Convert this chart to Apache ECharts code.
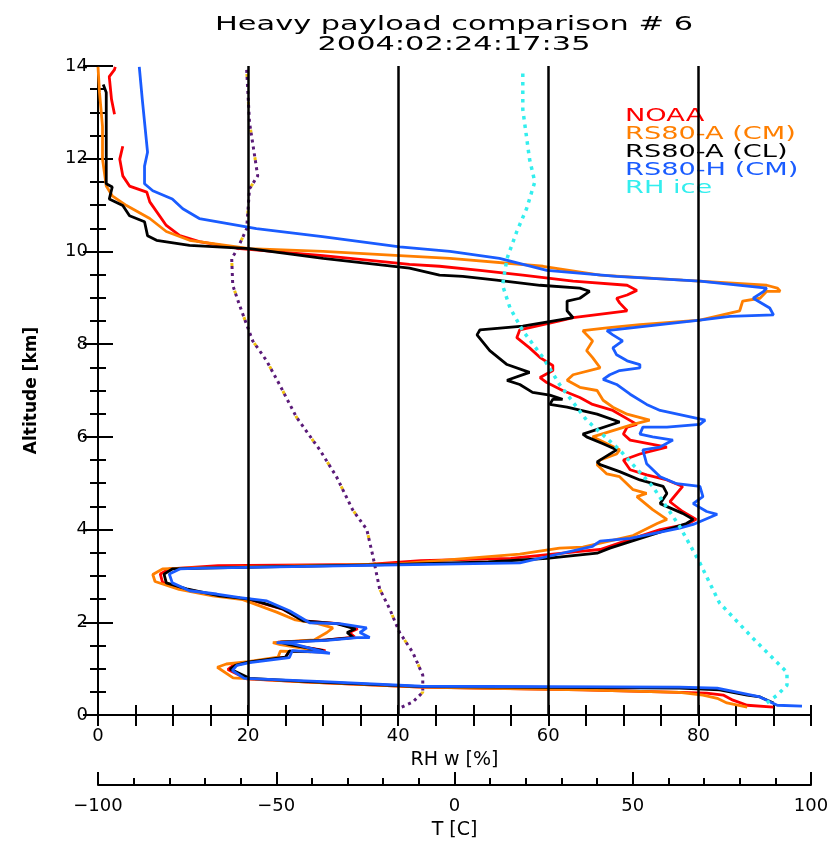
<!DOCTYPE html>
<html>
<head>
<meta charset="utf-8">
<title>Heavy payload comparison # 6</title>
<script src="https://cdn.jsdelivr.net/npm/echarts@6/dist/echarts.min.js"></script>
<style>
  html, body { margin: 0; padding: 0; background: #fff; }
  #chart { width: 837px; height: 845px; }
</style>
</head>
<body>
<div id="chart"></div>
<script>
// [RH w %, altitude km]
var noaa = [
  [90, 0.17], [86.5, 0.21], [84.6, 0.32], [83.3, 0.43], [81.1, 0.47], [77.5, 0.49], [64.6, 0.54],
  [43, 0.6], [28, 0.71], [19.8, 0.78], [17.3, 0.98], [18, 1.07], [20, 1.14], [25, 1.25], [25.5, 1.38],
  [29.8, 1.36], [30.3, 1.39], [25.5, 1.52], [24, 1.57], [30.5, 1.62], [34.2, 1.68], [33.5, 1.78],
  [34.6, 1.86], [32, 1.97], [27.5, 2.03], [24.5, 2.29], [20, 2.5], [16, 2.57], [11.5, 2.72], [8.6, 2.86],
  [8.3, 3.04], [9.5, 3.15], [16, 3.22], [36, 3.25], [43, 3.33], [55, 3.38], [64.2, 3.53], [66.9, 3.57],
  [70.9, 3.79], [74.9, 4.0], [78.4, 4.11], [79.7, 4.22], [77.9, 4.39], [76.2, 4.6], [77.9, 4.93],
  [75.8, 5.07], [73.1, 5.18], [70.9, 5.29], [70, 5.5], [72.2, 5.63], [75.8, 5.78], [70.9, 5.93],
  [70, 6.06], [70.5, 6.21], [71.8, 6.27], [68.6, 6.57], [65.9, 6.7], [64.2, 6.85], [61.9, 7.0],
  [59.8, 7.17], [58.9, 7.28], [60.6, 7.43], [60.6, 7.54], [58.9, 7.71], [57.5, 7.92], [55.8, 8.14],
  [56.2, 8.31], [61.5, 8.5], [63.3, 8.57], [70.5, 8.72], [69.5, 8.89], [69.1, 8.99], [70.5, 9.06],
  [71.8, 9.16], [70.5, 9.27], [63.3, 9.36], [56.6, 9.49], [50.9, 9.59], [45.5, 9.68], [41.5, 9.72],
  [30, 9.91], [18.9, 10.06], [13.5, 10.21], [10.9, 10.34], [9.1, 10.56], [6.9, 11.07], [6.5, 11.28],
  [4.2, 11.41], [3.3, 11.63], [2.9, 11.99], [3.3, 12.27], ['-', '-'],
  [2.2, 12.96], [1.8, 13.28], [1.5, 13.77], [2.2, 13.92], [2.3, 13.98]
];
var rs80aCM = [
  [86.5, 0.17], [83.8, 0.26], [82.5, 0.36], [80.6, 0.43], [77.5, 0.49], [64.6, 0.54], [50, 0.58],
  [43, 0.6], [28, 0.71], [18, 0.8], [15.9, 1.03], [17.1, 1.1], [20, 1.15], [24, 1.25], [24.3, 1.38],
  [28.3, 1.36], [28.8, 1.4], [24.3, 1.52], [23.3, 1.56], [28.8, 1.62], [30.5, 1.78], [31.3, 1.88],
  [29.3, 1.97], [26.3, 2.05], [23.8, 2.22], [19.3, 2.49], [15.3, 2.57], [10.8, 2.71], [7.6, 2.88],
  [7.3, 3.03], [8.6, 3.15], [11.8, 3.17], [40, 3.26], [56.2, 3.47], [61.5, 3.6], [64.6, 3.62],
  [71.3, 3.87], [74.5, 4.13], [75.8, 4.22], [73.9, 4.43], [71.8, 4.71], [73.1, 4.78], [71.3, 4.86],
  [69.5, 5.14], [67.8, 5.2], [66.5, 5.4], [66.9, 5.5], [69.1, 5.63], [69.5, 5.72], [65.9, 6.0],
  [71.3, 6.27], [73.5, 6.36], [70.5, 6.49], [68.6, 6.64], [67.3, 6.79], [66.5, 7.0], [64.2, 7.07],
  [62.5, 7.22], [63.3, 7.34], [66.9, 7.49], [65.9, 7.71], [65.1, 7.86], [65.9, 8.07], [64.6, 8.29],
  [67.8, 8.35], [72.2, 8.42], [80.2, 8.52], [85.5, 8.72], [85.9, 8.93], [88.2, 8.99], [89.1, 9.14],
  [90.9, 9.14], [90.5, 9.21], [89.1, 9.27], [77.9, 9.38], [66.9, 9.49], [59.3, 9.68], [46.9, 9.85],
  [40.2, 9.91], [30, 10.0], [20.2, 10.06], [12.2, 10.24], [9.1, 10.43], [6.9, 10.71], [3.8, 10.99],
  [1.9, 11.2], [1.1, 11.41], [0.6, 11.99], [0.6, 12.7], [0.2, 13.43], [0, 13.98]
];
var rs80aCL = [
  [90, 0.26], [88.2, 0.39], [86.5, 0.43], [82.8, 0.54], [77.5, 0.58], [43, 0.61], [28, 0.72],
  [20.2, 0.79], [17.6, 0.99], [18.3, 1.07], [20, 1.14], [25, 1.25], [25.5, 1.38], [29.5, 1.36],
  [30, 1.39], [25.5, 1.52], [24.3, 1.57], [29.8, 1.61], [34, 1.67], [33.2, 1.78], [34.3, 1.86],
  [31.8, 1.97], [27.3, 2.03], [24.6, 2.29], [20.2, 2.5], [16.2, 2.57], [11.8, 2.72], [9.1, 2.85],
  [8.8, 3.04], [9.9, 3.15], [13.9, 3.17], [40, 3.25], [52, 3.3], [59.8, 3.38], [66.5, 3.49],
  [68.2, 3.6], [78.4, 4.13], [79.3, 4.22], [77.9, 4.35], [74.9, 4.56], [75.8, 4.78], [75.3, 4.93],
  [72.2, 5.07], [69.5, 5.25], [66.9, 5.4], [66.5, 5.46], [69.1, 5.72], [67.3, 5.85], [65.1, 6.0],
  [64.6, 6.06], [69.5, 6.32], [66.5, 6.49], [62.5, 6.64], [60.2, 6.7], [60.6, 6.81], [61.9, 6.81],
  [60.2, 6.9], [57.9, 6.96], [56.2, 7.13], [54.5, 7.22], [57.5, 7.39], [54.5, 7.56], [52.2, 7.86],
  [50.5, 8.2], [50.9, 8.31], [56.6, 8.39], [63.3, 8.57], [62.5, 8.72], [62.5, 8.93], [64.2, 8.99],
  [65.5, 9.14], [64.2, 9.21], [58.9, 9.27], [53.1, 9.38], [48.6, 9.46], [45.5, 9.49], [41.5, 9.64],
  [30, 9.85], [20.2, 10.06], [12.2, 10.13], [7.8, 10.24], [6.6, 10.34], [6.2, 10.64], [4.2, 10.77],
  [3.3, 10.99], [1.5, 11.13], [1.9, 11.39], [1.1, 11.46], [1.1, 13.43], [0.7, 13.6]
];
var rs80hCM = [
  [93.8, 0.19], [90.5, 0.21], [88.2, 0.39], [82.5, 0.58], [77.5, 0.6], [43, 0.62], [30, 0.72],
  [19.5, 0.79], [17.9, 0.96], [18.5, 1.07], [20.2, 1.13], [25.5, 1.24], [25.9, 1.39], [29.5, 1.35],
  [30.9, 1.33], [25.9, 1.54], [23.8, 1.56], [30.5, 1.61], [34.5, 1.67], [36.2, 1.67], [34.9, 1.78],
  [35.8, 1.88], [32.2, 1.97], [28.2, 1.99], [25.5, 2.25], [22.5, 2.46], [18.9, 2.53], [15.8, 2.61],
  [12.2, 2.68], [9.9, 2.85], [9.5, 3.04], [10.9, 3.15], [13.9, 3.17], [40, 3.24], [56.2, 3.28],
  [60.2, 3.43], [65.9, 3.64], [66.9, 3.75], [70.9, 3.81], [77.5, 4.03], [79.3, 4.11], [82.5, 4.33],
  [81.1, 4.39], [79.3, 4.56], [80.6, 4.71], [80.2, 4.93], [77.1, 4.99], [74.9, 5.14], [73.1, 5.42],
  [72.6, 5.72], [74.9, 5.78], [76.6, 5.93], [73.9, 6.0], [72.2, 6.06], [72.6, 6.21], [75.8, 6.21],
  [80.2, 6.27], [80.9, 6.36], [74.9, 6.57], [73.1, 6.7], [70.9, 6.92], [69.1, 7.13], [67.3, 7.24],
  [68.2, 7.34], [69.5, 7.43], [72.2, 7.49], [72.2, 7.56], [70.5, 7.64], [69.1, 7.77], [68.6, 7.92],
  [69.9, 8.07], [68.6, 8.2], [67.8, 8.29], [80.2, 8.52], [84.2, 8.6], [90, 8.63], [89.5, 8.78],
  [87.3, 8.99], [88.7, 9.14], [89.1, 9.21], [80.2, 9.36], [69.1, 9.46], [59.8, 9.59], [53.5, 9.85],
  [46.9, 10.0], [40.2, 10.1], [29.9, 10.32], [21.1, 10.49], [13.5, 10.71], [11.3, 10.92], [9.9, 11.13],
  [7.3, 11.31], [6.2, 11.46], [6.2, 11.84], [6.6, 12.14], [5.9, 13.28], [5.5, 13.98]
];
var rhIce = [
  [89.1, 0.26], [90.5, 0.43], [91.8, 0.64], [91.8, 0.92], [87.3, 1.65], [82.8, 2.42], [80.2, 3.28],
  [77.5, 4.07], [73.9, 4.93], [69.5, 5.72], [65.1, 6.36], [61.5, 7.13], [59.3, 7.71], [56.6, 8.29],
  [54.9, 8.78], [53.9, 9.27], [54.5, 9.85], [55.8, 10.43], [57.1, 10.92], [58.2, 11.5], [57.5, 11.99],
  [56.6, 13.06], [56.6, 13.92]
];
// [T degC, altitude km]
var temperature = [
  [-14.8, 0.17], [-11.7, 0.28], [-8.9, 0.49], [-8.9, 0.86], [-11.7, 1.35], [-15.4, 1.78], [-18.2, 2.29],
  [-21, 2.72], [-22.9, 3.43], [-24.6, 4.0], [-28.6, 4.43], [-33.1, 5.14], [-37.8, 5.72], [-44.3, 6.42],
  [-49.1, 7.13], [-52.7, 7.64], [-56.6, 8.07], [-58.3, 8.42], [-60.3, 8.84], [-62.2, 9.27], [-62.5, 9.85],
  [-61.1, 10.02], [-58.3, 10.49], [-57.5, 11.35], [-55.2, 11.63], [-57.5, 12.78], [-58.3, 13.92]
];
var refLines = [20, 40, 60, 80];
var legendNames = ['NOAA', 'RS80-A (CM)', 'RS80-A (CL)', 'RS80-H (CM)', 'RH ice'];
var legendColors = ['#ff0000', '#ff7f00', '#000000', '#1a5cff', '#33eeee'];

var FONT = 'DejaVu Sans';
var chart = echarts.init(document.getElementById('chart'));

function rhLine(name, data, color) {
  return {
    name: name, type: 'line', data: data, symbol: 'none',
    xAxisIndex: 0, yAxisIndex: 0, animation: false,
    lineStyle: { color: color, width: 2.8 }
  };
}

var legendGraphics = legendNames.map(function (n, i) {
  return {
    type: 'text', x: 625, y: 117 + i * 17.8, scaleX: 1.6,
    style: { text: n, fill: legendColors[i], font: '17px "' + FONT + '"', align: 'left', verticalAlign: 'middle' }
  };
});

var option = {
  backgroundColor: '#fff',
  animation: false,
  grid: { left: 98, right: 26, top: 66, bottom: 125 },
  graphic: [
    { type: 'text', x: 454, y: 25, scaleX: 1.6,
      style: { text: 'Heavy payload comparison # 6', fill: '#000', font: '19px "' + FONT + '"', align: 'center', verticalAlign: 'middle' } },
    { type: 'text', x: 454, y: 45, scaleX: 1.6,
      style: { text: '2004:02:24:17:35', fill: '#000', font: '19px "' + FONT + '"', align: 'center', verticalAlign: 'middle' } }
  ].concat(legendGraphics),
  xAxis: [
    {
      type: 'value', position: 'bottom', min: 0, max: 95, interval: 5,
      name: 'RH w [%]', nameLocation: 'middle', nameGap: 36,
      nameTextStyle: { fontFamily: FONT, fontSize: 19, color: '#000' },
      axisLine: { lineStyle: { color: '#000', width: 2 } },
      axisTick: { inside: true, length: 10, lineStyle: { color: '#000', width: 2 } },
      axisLabel: { margin: 12, fontFamily: FONT, fontSize: 18, color: '#000',
        formatter: function (v) { return v % 20 === 0 ? String(v) : ''; } },
      splitLine: { show: false }
    },
    {
      type: 'value', position: 'top', min: 0, max: 95, interval: 5,
      axisLine: { lineStyle: { color: '#000', width: 2 } },
      axisTick: { inside: true, length: 11, lineStyle: { color: '#000', width: 2 } },
      axisLabel: { show: false },
      splitLine: { show: false }
    },
    {
      type: 'value', position: 'bottom', offset: 70, min: -100, max: 100, interval: 50,
      name: 'T [C]', nameLocation: 'middle', nameGap: 36,
      nameTextStyle: { fontFamily: FONT, fontSize: 19, color: '#000' },
      axisLine: { lineStyle: { color: '#000', width: 2 } },
      axisTick: { inside: true, length: 13, lineStyle: { color: '#000', width: 2 } },
      minorTick: { show: true, splitNumber: 5, length: 7, lineStyle: { color: '#000', width: 2 } },
      axisLabel: { margin: 12, fontFamily: FONT, fontSize: 18, color: '#000',
        formatter: function (v) { return v < 0 ? '\u2212' + Math.abs(v) : String(v); } },
      splitLine: { show: false }
    }
  ],
  yAxis: [
    {
      type: 'value', position: 'left', min: 0, max: 14, interval: 2,
      name: 'Altitude [km]', nameLocation: 'middle', nameGap: 58, nameRotate: 90,
      nameTextStyle: { fontFamily: FONT, fontSize: 17, fontWeight: 'bold', color: '#000' },
      axisLine: { lineStyle: { color: '#000', width: 2 } },
      axisTick: { inside: true, length: 15, lineStyle: { color: '#000', width: 2 } },
      minorTick: { show: true, splitNumber: 4, length: 8, lineStyle: { color: '#000', width: 2 } },
      axisLabel: { margin: 10, fontFamily: FONT, fontSize: 18, color: '#000' },
      splitLine: { show: false }, minorSplitLine: { show: false }
    },
    {
      type: 'value', position: 'right', min: 0, max: 14, interval: 2,
      axisLine: { lineStyle: { color: '#000', width: 2 } },
      axisTick: { inside: true, length: 15, lineStyle: { color: '#000', width: 2 } },
      minorTick: { show: true, splitNumber: 4, length: 8, lineStyle: { color: '#000', width: 2 } },
      axisLabel: { show: false },
      splitLine: { show: false }
    }
  ],
  series: [
    {
      name: 'T (shadow)', type: 'line', data: temperature, symbol: 'none',
      xAxisIndex: 2, yAxisIndex: 0,
      lineStyle: { color: '#f0c010', width: 3, type: [3, 25], dashOffset: 4 }
    },
    {
      name: 'T', type: 'line', data: temperature, symbol: 'none',
      xAxisIndex: 2, yAxisIndex: 0,
      lineStyle: { color: '#5a1a78', width: 3, type: [3, 4] }
    },
    rhLine('NOAA', noaa, legendColors[0]),
    rhLine('RS80-A (CM)', rs80aCM, legendColors[1]),
    rhLine('RS80-A (CL)', rs80aCL, legendColors[2]),
    rhLine('RS80-H (CM)', rs80hCM, legendColors[3]),
    {
      name: 'RH ice', type: 'line', data: rhIce, symbol: 'none',
      xAxisIndex: 0, yAxisIndex: 0,
      lineStyle: { color: legendColors[4], width: 3.5, type: [3.5, 5] }
    },
    {
      name: 'ref', type: 'line', data: [], xAxisIndex: 0, yAxisIndex: 0, z: 5,
      markLine: {
        silent: true, symbol: 'none', label: { show: false }, animation: false,
        lineStyle: { color: '#000', width: 2.5, type: 'solid' },
        data: refLines.map(function (v) { return { xAxis: v }; })
      }
    }
  ]
};

chart.setOption(option);
</script>
</body>
</html>
